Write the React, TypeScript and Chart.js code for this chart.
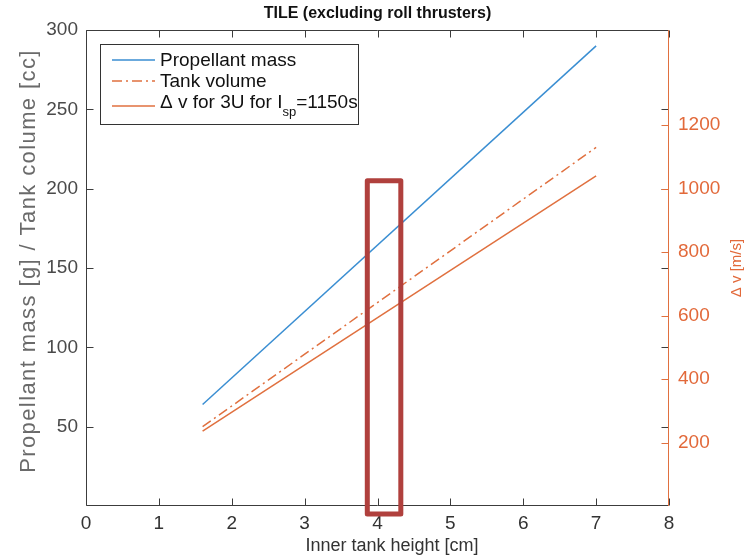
import React, { useEffect, useRef } from "react";
import { Chart, registerables } from "chart.js";

Chart.register(...registerables);

// ---- data ----
const innerTankHeight = [1.6, 7]; // cm
const propellantMass = [64, 290]; // g
const tankVolume = [50, 226]; // cc
const deltaV = [236, 1040]; // m/s
const xTicks = [0, 1, 2, 3, 4, 5, 6, 7, 8];
const leftTicks = [50, 100, 150, 200, 250, 300];
const rightTicks = [200, 400, 600, 800, 1000, 1200];
const highlightX = [3.86, 4.32]; // cm
const highlightY = [205, -5]; // left-axis units

const TITLE = "TILE (excluding roll thrusters)";
const X_TITLE = "Inner tank height [cm]";
const Y_TITLE = "Propellant mass [g] / Tank colume [cc]";
const Y2_TITLE = "\u0394 v [m/s]";
const LEGEND = ["Propellant mass", "Tank volume", "\u0394 v for 3U for I"];

const FONT = '"Liberation Sans", Arial, Helvetica, sans-serif';
const BLUE = "#3a8ed2";
const ORANGE = "#e0703f";
const ORANGE_TXT = "#e2693a";
const AXIS = "#3c3c3c";
const TICK_TXT = "#4a4a4a";
const RED = "#b0403d";

const overlay = {
  id: "overlay",
  afterDraw(chart: any) {
    const { ctx, chartArea: a, scales } = chart;
    const sx = scales.x, sy = scales.y, sy2 = scales.y2;
    const L = Math.round(a.left) + 0.5;
    const R = Math.round(a.right) - 0.5;
    const T = Math.round(a.top) + 0.5;
    const B = Math.round(a.bottom) - 0.5;
    const TL = 7;
    ctx.save();
    ctx.lineWidth = 1;
    // frame
    ctx.strokeStyle = AXIS;
    ctx.beginPath();
    ctx.moveTo(R, T); ctx.lineTo(L, T); ctx.lineTo(L, B); ctx.lineTo(R, B);
    ctx.stroke();
    // x ticks bottom & top
    ctx.beginPath();
    for (const v of xTicks) {
      const px = Math.round(sx.getPixelForValue(v)) + 0.5;
      ctx.moveTo(px, B); ctx.lineTo(px, B - TL);
      ctx.moveTo(px, T); ctx.lineTo(px, T + TL);
    }
    // left ticks on left and right side
    for (const v of leftTicks) {
      const py = Math.round(sy.getPixelForValue(v)) + 0.5;
      ctx.moveTo(L, py); ctx.lineTo(L + TL, py);
      ctx.moveTo(R, py); ctx.lineTo(R - TL, py);
    }
    ctx.stroke();
    // right axis
    ctx.strokeStyle = ORANGE;
    ctx.beginPath();
    ctx.moveTo(R, T - 0.5); ctx.lineTo(R, B + 0.5);
    for (const v of rightTicks) {
      const py = Math.round(sy2.getPixelForValue(v)) + 0.5;
      ctx.moveTo(R, py); ctx.lineTo(R - TL, py);
    }
    ctx.stroke();

    // title
    ctx.fillStyle = "#111";
    ctx.font = `bold 16px ${FONT}`;
    ctx.textAlign = "center";
    ctx.textBaseline = "middle";
    ctx.fillText(TITLE, (a.left + a.right) / 2, 14);

    // x title
    ctx.fillStyle = "#333";
    ctx.font = `18px ${FONT}`;
    ctx.fillText(X_TITLE, 392, 546);

    // y title
    ctx.save();
    ctx.translate(29, 261);
    ctx.rotate(-Math.PI / 2);
    ctx.fillStyle = "#6a6a6a";
    ctx.font = `22px ${FONT}`;
    (ctx as any).letterSpacing = "1.4px";
    ctx.fillText(Y_TITLE, 0, 0);
    (ctx as any).letterSpacing = "0px";
    ctx.restore();

    // y2 title
    ctx.save();
    ctx.translate(737, 268);
    ctx.rotate(-Math.PI / 2);
    ctx.fillStyle = ORANGE_TXT;
    ctx.font = `15px ${FONT}`;
    ctx.fillText(Y2_TITLE, 0, 0);
    ctx.restore();

    // legend
    const bx = 100.5, by = 44.5, bw = 258, bh = 80;
    ctx.fillStyle = "#fff";
    ctx.fillRect(bx, by, bw, bh);
    ctx.strokeStyle = "#333";
    ctx.lineWidth = 1;
    ctx.strokeRect(bx, by, bw, bh);
    const rows = [60, 81, 106];
    const styles = [
      { c: BLUE, d: [] as number[] },
      { c: ORANGE, d: [10, 4, 2, 4] },
      { c: ORANGE, d: [] as number[] },
    ];
    ctx.lineWidth = 1.5;
    rows.forEach((ry, i) => {
      ctx.strokeStyle = styles[i].c;
      ctx.setLineDash(styles[i].d);
      ctx.beginPath();
      ctx.moveTo(112, ry); ctx.lineTo(155, ry);
      ctx.stroke();
    });
    ctx.setLineDash([]);
    ctx.fillStyle = "#111";
    ctx.textAlign = "left";
    ctx.textBaseline = "alphabetic";
    ctx.font = `19px ${FONT}`;
    ctx.fillText(LEGEND[0], 160, 66);
    ctx.fillText(LEGEND[1], 160, 87);
    ctx.fillText(LEGEND[2], 160, 108);
    const w = ctx.measureText(LEGEND[2]).width;
    ctx.font = `13px ${FONT}`;
    ctx.fillText("sp", 160 + w, 116);
    const w2 = ctx.measureText("sp").width;
    ctx.font = `19px ${FONT}`;
    ctx.fillText("=1150s", 160 + w + w2, 108);

    // highlight rectangle
    const rx0 = sx.getPixelForValue(highlightX[0]);
    const rx1 = sx.getPixelForValue(highlightX[1]);
    const ry0 = sy.getPixelForValue(highlightY[0]);
    const ry1 = sy.getPixelForValue(highlightY[1]);
    ctx.strokeStyle = RED;
    ctx.lineWidth = 5;
    ctx.lineJoin = "round";
    ctx.strokeRect(rx0, ry0, rx1 - rx0, ry1 - ry0);
    ctx.restore();
  },
};

export default function App() {
  const ref = useRef<HTMLCanvasElement | null>(null);
  useEffect(() => {
    if (!ref.current) return;
    const tickFont = { family: FONT, size: 19 };
    const plain = (v: any) => String(v);
    const chart = new Chart(ref.current, {
      type: "line",
      data: {
        datasets: [
          {
            label: LEGEND[0],
            data: innerTankHeight.map((x, i) => ({ x, y: propellantMass[i] })),
            borderColor: BLUE,
            borderWidth: 1.5,
            pointRadius: 0,
            yAxisID: "y",
          },
          {
            label: LEGEND[1],
            data: innerTankHeight.map((x, i) => ({ x, y: tankVolume[i] })),
            borderColor: ORANGE,
            borderWidth: 1.5,
            borderDash: [10, 4, 2, 4],
            pointRadius: 0,
            yAxisID: "y",
          },
          {
            label: "\u0394 v for 3U for Isp=1150s",
            data: innerTankHeight.map((x, i) => ({ x, y: deltaV[i] })),
            borderColor: ORANGE,
            borderWidth: 1.5,
            pointRadius: 0,
            yAxisID: "y2",
          },
        ],
      },
      options: {
        animation: false,
        responsive: false,
        maintainAspectRatio: false,
        layout: { padding: { top: 30, left: 0, right: 0, bottom: 0 } },
        plugins: { legend: { display: false }, tooltip: { enabled: false }, title: { display: false } },
        scales: {
          x: {
            type: "linear",
            min: 0,
            max: 8,
            afterBuildTicks: (s: any) => { s.ticks = xTicks.map((v) => ({ value: v })); },
            afterFit: (s: any) => { s.height = 52; },
            ticks: { color: "#333", font: tickFont, padding: 6, autoSkip: false, maxRotation: 0, callback: plain },
            grid: { display: false, drawTicks: false },
            border: { display: false },
          },
          y: {
            type: "linear",
            position: "left",
            min: 0,
            max: 300,
            afterBuildTicks: (s: any) => { s.ticks = leftTicks.map((v) => ({ value: v })); },
            afterFit: (s: any) => { s.width = 86; },
            ticks: { color: TICK_TXT, font: tickFont, padding: 8, callback: plain },
            grid: { display: false, drawTicks: false },
            border: { display: false },
          },
          y2: {
            type: "linear",
            position: "right",
            min: 0,
            max: 1500,
            afterBuildTicks: (s: any) => { s.ticks = rightTicks.map((v) => ({ value: v })); },
            afterFit: (s: any) => { s.width = 86; },
            ticks: { color: ORANGE_TXT, font: tickFont, padding: 9, callback: plain },
            grid: { display: false, drawTicks: false },
            border: { display: false },
          },
        },
      },
      plugins: [overlay],
    } as any);
    return () => chart.destroy();
  }, []);
  return (
    <div style={{ position: "absolute", left: 0, top: 0, width: 755, height: 558, background: "#fff" }}>
      <canvas ref={ref} width={755} height={558} style={{ display: "block", width: 755, height: 558 }} />
    </div>
  );
}
